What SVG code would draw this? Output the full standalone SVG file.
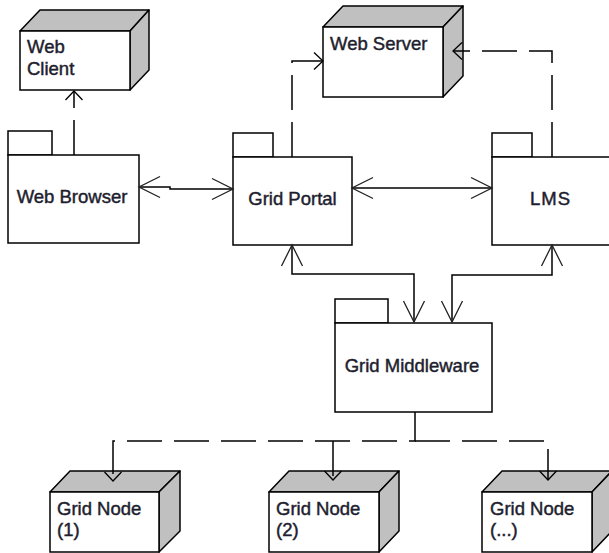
<svg xmlns="http://www.w3.org/2000/svg" width="609" height="553" viewBox="0 0 609 553">
  <style>
    .box { fill: #ffffff; stroke: #000000; stroke-width: 1.5; }
    .shade { fill: #c0c0c0; stroke: #000000; stroke-width: 1.5; stroke-linejoin: round; }
    .lbl { font-family: "Liberation Sans", Arial, sans-serif; font-size: 18.5px; fill: #1e1e2e; stroke: #1e1e2e; stroke-width: 0.45; }
    .mid { text-anchor: middle; }
    .solid { fill: none; stroke: #000000; stroke-width: 1.5; }
    .dash { fill: none; stroke: #000000; stroke-width: 1.5; stroke-dasharray: 35 12; }
  </style>
  <defs>
    <marker id="big" markerUnits="userSpaceOnUse" viewBox="-24 -14 28 28" refX="0" refY="0" markerWidth="28" markerHeight="28" orient="auto-start-reverse" overflow="visible">
      <path d="M -21 -10.5 L 0 0 L -21 10.5" fill="none" stroke="#222" stroke-width="1.3" stroke-dasharray="none"/>
    </marker>
    <marker id="small" markerUnits="userSpaceOnUse" viewBox="-12 -12 16 24" refX="0" refY="0" markerWidth="16" markerHeight="24" orient="auto-start-reverse" overflow="visible">
      <path d="M -9 -8.5 L 0 0 L -9 8.5" fill="none" stroke="#000" stroke-width="1.3" stroke-dasharray="none"/>
    </marker>
  </defs>

  <!-- Web Client node -->
  <g id="web-client">
    <polygon class="shade" points="20,31 40,10 149,10 130,31"/>
    <polygon class="shade" points="130,31 149,10 149,70 130,90"/>
    <rect class="box" x="20" y="31" width="110" height="59"/>
    <text class="lbl" x="27" y="53">Web</text>
    <text class="lbl" x="27" y="75">Client</text>
  </g>

  <!-- Web Server node -->
  <g id="web-server">
    <polygon class="shade" points="323,27 343,6 463,6 443,27"/>
    <polygon class="shade" points="443,27 463,6 463,76 443,97"/>
    <rect class="box" x="323" y="27" width="120" height="70"/>
    <text class="lbl" x="330" y="50">Web  Server</text>
  </g>

  <!-- Web Browser package -->
  <g id="web-browser">
    <rect class="box" x="8" y="131" width="44" height="24"/>
    <rect class="box" x="8" y="155" width="131" height="88"/>
    <text class="lbl mid" x="72" y="203">Web Browser</text>
  </g>

  <!-- Grid Portal package -->
  <g id="grid-portal">
    <rect class="box" x="233" y="133" width="40" height="24"/>
    <rect class="box" x="233" y="157" width="119" height="88"/>
    <text class="lbl mid" x="292.5" y="205">Grid Portal</text>
  </g>

  <!-- LMS package -->
  <g id="lms">
    <rect class="box" x="492" y="133" width="40" height="24"/>
    <rect class="box" x="492" y="157" width="122" height="88"/>
    <text class="lbl mid" x="550.5" y="205" letter-spacing="1">LMS</text>
  </g>

  <!-- Grid Middleware package -->
  <g id="grid-middleware">
    <rect class="box" x="335" y="299" width="53" height="24"/>
    <rect class="box" x="335" y="323" width="157" height="89"/>
    <text class="lbl mid" x="412" y="372">Grid Middleware</text>
  </g>

  <!-- Grid Node (1) -->
  <g id="grid-node-1">
    <polygon class="shade" points="50,492 70,471 180,471 159,492"/>
    <polygon class="shade" points="159,492 180,471 180,531 159,552"/>
    <rect class="box" x="50" y="492" width="109" height="60"/>
    <text class="lbl" x="57" y="515">Grid Node</text>
    <text class="lbl" x="57" y="536">(1)</text>
  </g>

  <!-- Grid Node (2) -->
  <g id="grid-node-2">
    <polygon class="shade" points="269,492 289,471 399,471 379,492"/>
    <polygon class="shade" points="379,492 399,471 399,531 379,552"/>
    <rect class="box" x="269" y="492" width="110" height="60"/>
    <text class="lbl" x="276" y="515">Grid Node</text>
    <text class="lbl" x="276" y="536">(2)</text>
  </g>

  <!-- Grid Node (...) -->
  <g id="grid-node-3">
    <polygon class="shade" points="482,492 502,471 612,471 592,492"/>
    <polygon class="shade" points="592,492 612,471 612,531 592,552"/>
    <rect class="box" x="482" y="492" width="110" height="60"/>
    <text class="lbl" x="490" y="515">Grid Node</text>
    <text class="lbl" x="490" y="536">(...)</text>
  </g>

  <!-- Connectors -->
  <g id="connectors">
    <path class="dash" d="M74,155 V91" marker-end="url(#small)"/>
    <path class="dash" d="M292,157 V61 H323" marker-end="url(#small)"/>
    <path class="dash" d="M552,157 V51 H453" marker-end="url(#small)"/>
    <path class="solid" d="M139,187 H170 V189 H233" marker-start="url(#big)" marker-end="url(#big)"/>
    <path class="solid" d="M352,188 H492" marker-start="url(#big)" marker-end="url(#big)"/>
    <path class="solid" d="M292,245 V274 H414 V322" marker-start="url(#big)" marker-end="url(#big)"/>
    <path class="solid" d="M552,245 V275 H452 V322" marker-start="url(#big)" marker-end="url(#big)"/>
    <path class="dash" d="M415,412 V441 H113 V481" marker-end="url(#small)"/>
    <path class="dash" d="M415,441 H548 V480" marker-end="url(#small)"/>
    <path class="dash" d="M333,441 V480" marker-end="url(#small)"/>
  </g>
</svg>
